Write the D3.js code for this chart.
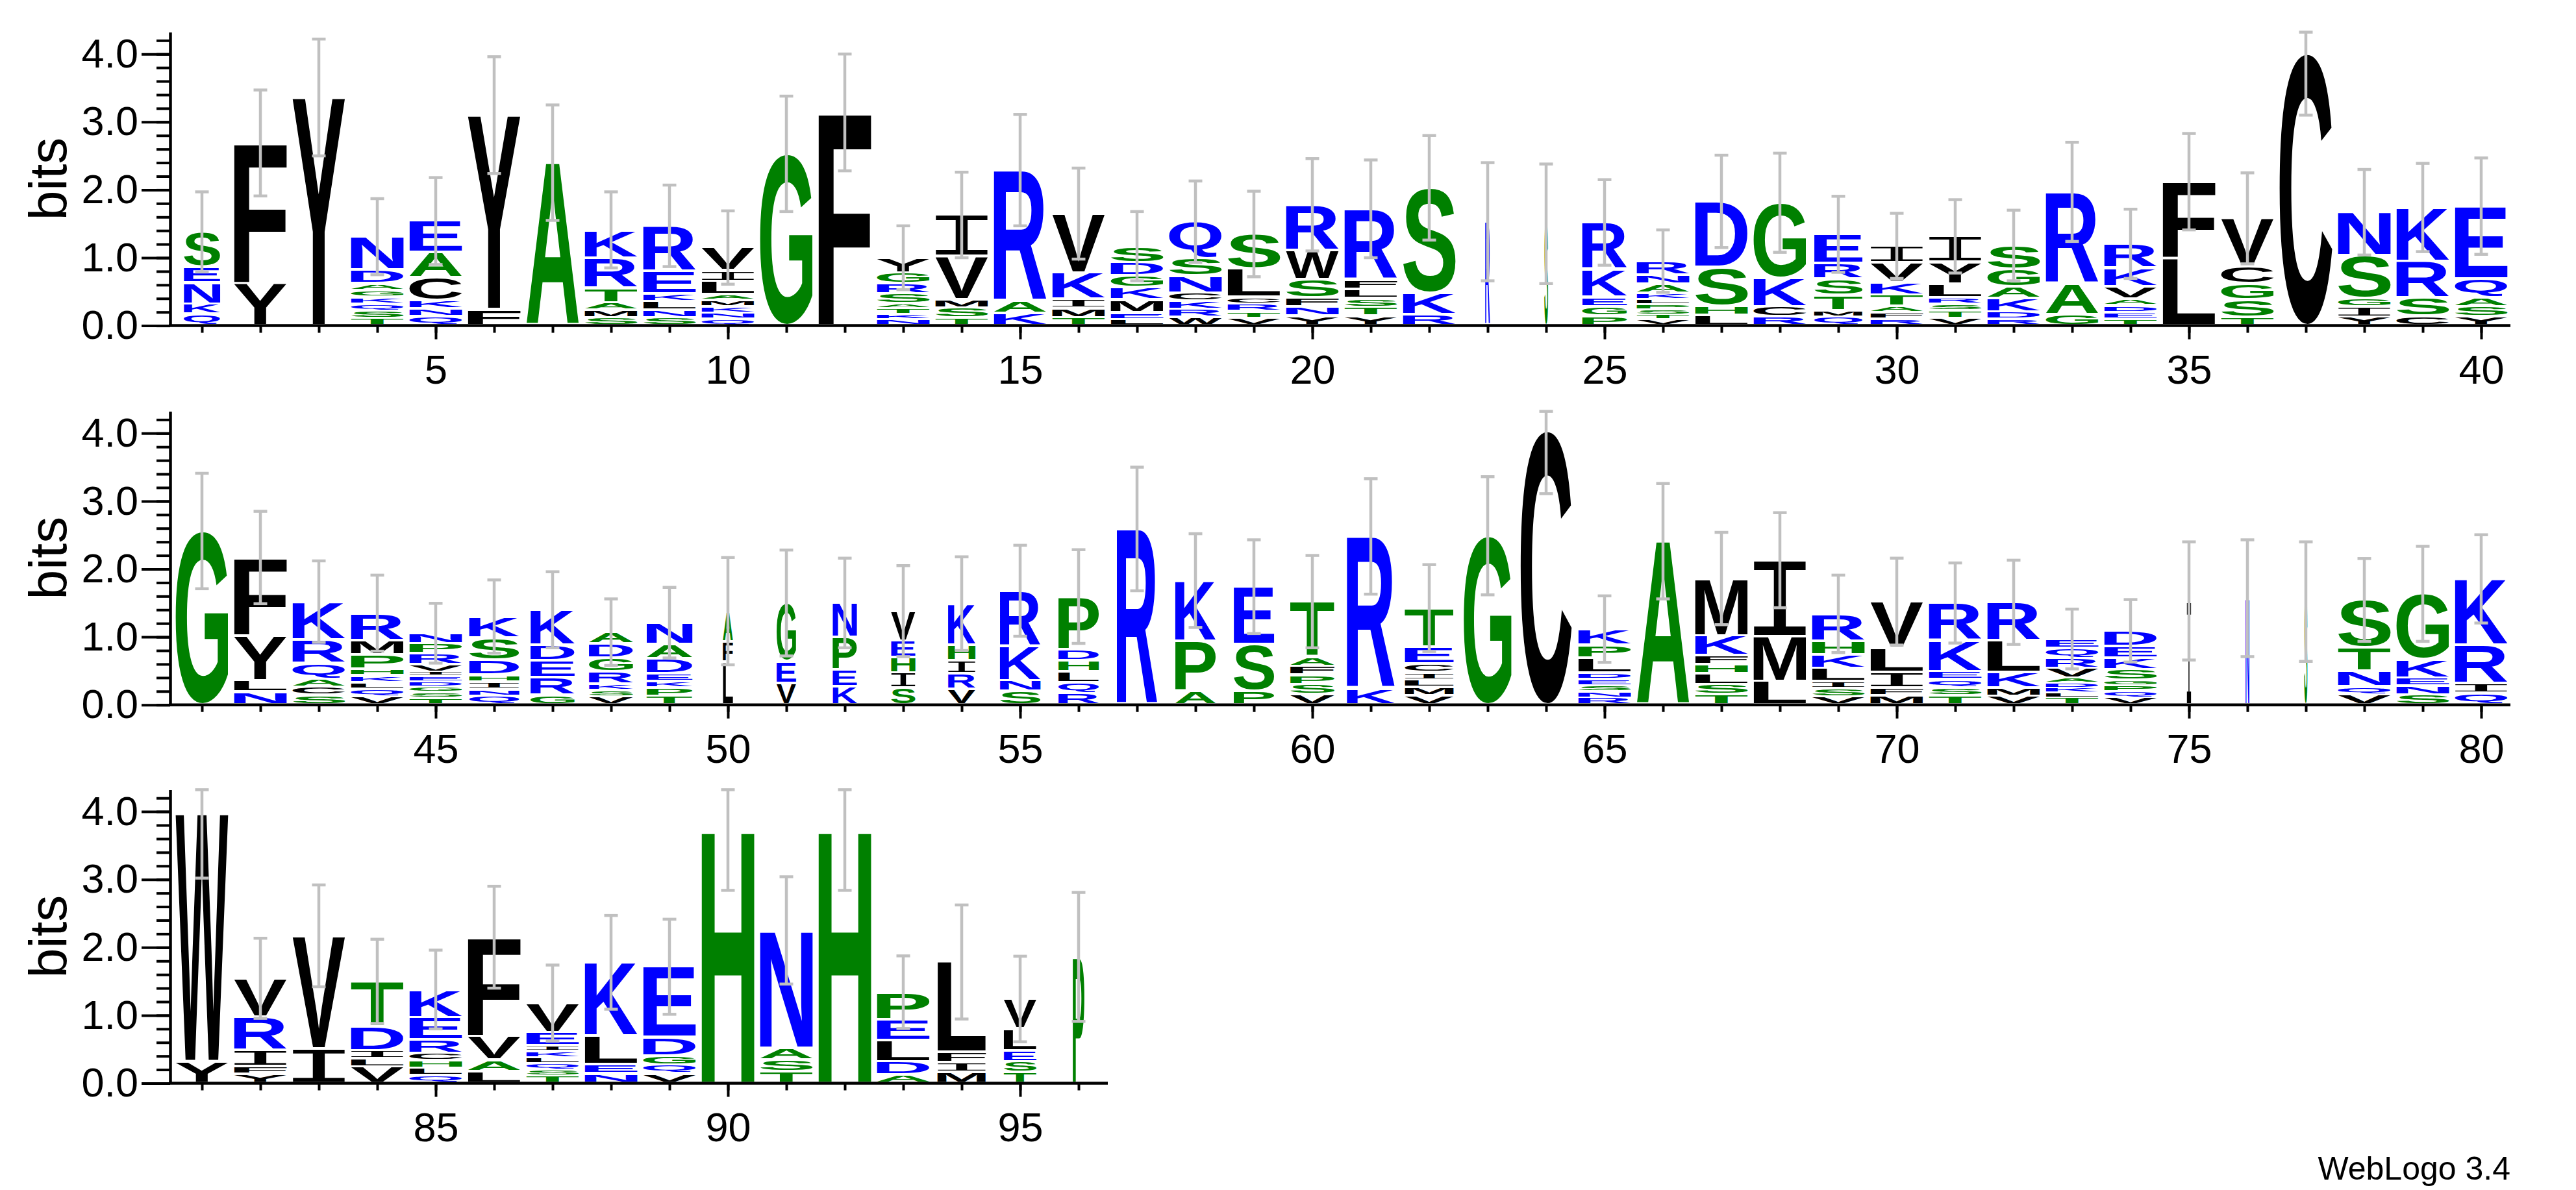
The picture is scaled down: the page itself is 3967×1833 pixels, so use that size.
<!DOCTYPE html>
<html><head><meta charset="utf-8">
<script src="https://cdn.jsdelivr.net/npm/d3@7"></script>
<style>body{margin:0;background:#fff}</style>
</head><body>
<script>
// ---------------- DATA ----------------
const rowStarts = [1, 41, 81];
const rowLengths = [40, 40, 16];
const yTickValues = [0, 1, 2, 3, 4];
const xTickLabels = [5,10,15,20,25,30,35,40,45,50,55,60,65,70,75,80,85,90,95];
const axisLabel = "bits";
const footer = "WebLogo 3.4";

// letter stacks, bottom -> top, [letter, bits]
const stacks = [
[["Q",.17],["K",.15],["N",.31],["E",.23],["S",.52]],
[["Y",.62],["F",2.07]],
[["Y",3.36]],
[["T",.11],["S",.11],["Q",.10],["K",.10],["G",.10],["A",.10],["D",.20],["N",.49]],
[["Q",.14],["N",.11],["K",.12],["C",.34],["A",.37],["E",.46]],
[["F",.24],["Y",2.86]],
[["A",2.40]],
[["S",.12],["M",.11],["A",.11],["T",.21],["R",.45],["K",.41]],
[["S",.12],["N",.11],["L",.13],["K",.11],["E",.33],["R",.67]],
[["Q",.10],["N",.09],["K",.09],["M",.10],["A",.08],["L",.19],["I",.16],["V",.34]],
[["G",2.53]],
[["F",3.14]],
[["N",.09],["K",.08],["T",.09],["A",.06],["S",.15],["R",.15],["G",.16],["Y",.22]],
[["T",.11],["S",.15],["M",.12],["V",.64],["I",.61]],
[["K",.18],["A",.18],["R",1.93]],
[["T",.12],["M",.14],["I",.13],["K",.39],["V",.87]],
[["L",.09],["E",.10],["M",.19],["K",.18],["G",.18],["D",.19],["S",.24]],
[["W",.12],["R",.12],["K",.12],["C",.12],["N",.25],["S",.26],["Q",.54]],
[["V",.11],["T",.10],["R",.11],["C",.10],["L",.42],["S",.51]],
[["Y",.14],["N",.14],["F",.13],["S",.27],["W",.43],["R",.67]],
[["Y",.14],["T",.13],["S",.13],["L",.14],["F",.14],["R",1.04]],
[["R",.16],["K",.32],["S",1.55]],
[["R",1.53]],
[["S",1.50]],
[["P",.14],["G",.14],["E",.14],["K",.41],["R",.69]],
[["V",.09],["T",.07],["S",.07],["P",.08],["L",.08],["K",.09],["A",.13],["N",.14],["R",.20]],
[["L",.15],["H",.14],["S",.57],["D",.97]],
[["R",.13],["C",.15],["K",.42],["G",1.11]],
[["Q",.125],["M",.10],["T",.22],["S",.24],["R",.23],["E",.43]],
[["R",.095],["F",.095],["A",.095],["T",.17],["K",.19],["V",.28],["I",.25]],
[["V",.11],["T",.11],["S",.10],["R",.095],["L",.20],["Y",.32],["I",.38]],
[["R",.095],["D",.105],["K",.20],["A",.17],["G",.26],["S",.35]],
[["G",.16],["A",.46],["R",1.35]],
[["T",.10],["E",.095],["D",.10],["A",.10],["V",.18],["K",.27],["R",.36]],
[["L",.99],["F",1.13]],
[["T",.125],["S",.255],["G",.24],["C",.25],["V",.71]],
[["C",4.01]],
[["Y",.13],["I",.15],["G",.12],["S",.63],["N",.64]],
[["C",.14],["S",.27],["R",.54],["K",.79]],
[["Y",.13],["S",.15],["A",.14],["Q",.27],["E",1.07]],
[["G",2.56]],
[["N",.19],["L",.17],["Y",.66],["F",1.15]],
[["S",.14],["C",.12],["A",.12],["Q",.23],["R",.35],["K",.56]],
[["V",.12],["Q",.11],["L",.10],["K",.10],["H",.10],["P",.21],["M",.21],["R",.40]],
[["T",.10],["S",.085],["G",.08],["D",.08],["E",.08],["I",.06],["V",.11],["R",.16],["P",.15],["N",.15]],
[["Q",.13],["N",.10],["I",.11],["H",.10],["D",.22],["S",.33],["K",.31]],
[["G",.14],["R",.26],["E",.25],["D",.23],["K",.52]],
[["V",.12],["S",.095],["K",.095],["R",.18],["G",.20],["D",.21],["A",.17]],
[["T",.13],["P",.12],["K",.10],["E",.11],["D",.22],["A",.21],["N",.32]],
[["L",.63],["F",.30],["A",.45]],
[["V",.32],["E",.32],["G",.86]],
[["K",.27],["E",.25],["P",.48],["N",.50]],
[["S",.25],["I",.22],["H",.23],["E",.24],["V",.44]],
[["V",.23],["R",.23],["I",.19],["H",.23],["K",.61]],
[["S",.20],["N",.16],["K",.50],["R",.82]],
[["R",.17],["Q",.16],["L",.16],["H",.165],["D",.16],["P",.78]],
[["R",2.59]],
[["A",.20],["P",.74],["K",.89]],
[["P",.20],["S",.69],["E",.85]],
[["V",.15],["S",.15],["P",.14],["F",.13],["A",.14],["T",.81]],
[["K",.24],["R",2.24]],
[["V",.14],["M",.12],["L",.11],["I",.11],["C",.125],["E",.25],["T",.57]],
[["G",2.49]],
[["C",4.04]],
[["R",.105],["N",.085],["S",.095],["E",.09],["D",.10],["L",.22],["P",.19],["K",.23]],
[["A",2.41]],
[["T",.15],["S",.15],["L",.16],["H",.13],["F",.14],["K",.29],["M",.84]],
[["L",.35],["M",.66],["I",1.12]],
[["V",.12],["S",.12],["I",.11],["L",.19],["K",.20],["H",.20],["R",.40]],
[["M",.14],["F",.11],["I",.23],["L",.35],["V",.69]],
[["T",.14],["S",.11],["Q",.12],["E",.12],["K",.46],["R",.55]],
[["V",.13],["M",.12],["K",.23],["L",.46],["R",.57]],
[["T",.105],["L",.07],["K",.075],["D",.075],["A",.07],["V",.145],["R",.15],["Q",.145],["E",.135]],
[["V",.105],["Q",.09],["P",.085],["G",.08],["S",.16],["K",.17],["E",.17],["D",.23]],
[["I",1.53]],
[["N",1.57]],
[["S",1.52]],
[["V",.145],["Q",.12],["N",.23],["T",.35],["S",.70]],
[["S",.145],["N",.13],["E",.12],["K",.27],["G",.97]],
[["Q",.17],["I",.145],["R",.57],["K",.97]],
[["Y",.32],["W",3.65]],
[["Y",.135],["F",.11],["I",.24],["R",.49],["V",.57]],
[["I",.51],["V",1.66]],
[["V",.24],["L",.12],["I",.12],["D",.35],["T",.67]],
[["Q",.11],["L",.115],["H",.105],["C",.11],["R",.20],["E",.33],["K",.41]],
[["L",.175],["A",.165],["V",.35],["F",1.46]],
[["T",.11],["S",.09],["Q",.09],["L",.09],["K",.09],["I",.08],["E",.20],["V",.43]],
[["N",.14],["E",.14],["L",.42],["K",1.08]],
[["V",.14],["Q",.13],["G",.135],["D",.27],["E",1.04]],
[["H",3.72]],
[["T",.17],["S",.175],["A",.175],["N",1.73]],
[["H",3.72]],
[["A",.125],["D",.19],["L",.315],["E",.31],["P",.40]],
[["M",.16],["I",.145],["F",.15],["L",1.33]],
[["T",.16],["S",.16],["E",.16],["L",.32],["V",.44]],
[["P",1.86]]
];

// error bar half-lengths (bits)
const errors = [
.59,.78,.86,.56,.64,.86,.85,.56,.60,.54,
.85,.86,.47,.63,.82,.67,.51,.60,.63,.68,
.72,.77,.87,.88,.63,.46,.68,.73,.56,.48,
.54,.52,.73,.51,.71,.67,.91,.63,.65,.71,
.85,.68,.60,.56,.44,.54,.56,.49,.52,.79,
.78,.66,.67,.69,.67,.69,.91,.69,.69,.68,
.85,.64,.87,.93,.49,.85,.68,.70,.57,.64,
.59,.62,.44,.46,.87,.86,.88,.61,.70,.65,
.95,.59,.75,.62,.58,.75,.56,.69,.70,.88,
.79,.88,.535,.84,.63,.95
];

// column occupancy (stack width fraction)
const occupancy = [
.69,1,1,1,1,1,1,1,1,1,
1,1,1,1,1,1,1,1,1,1,
1,1,.09,.07,.85,1,1,1,.92,1,
1,1,1,1,1,1,1,1,1,1,
1,1,1,1,1,.95,.84,.84,.87,.19,
.37,.46,.46,.52,.77,.77,.77,.77,.77,.84,
.91,.93,.91,.97,1,1,1,1,1,1,
1,1,1,1,.08,.07,.06,1,1,1,
1,1,1,1,1,1,1,1,1,1,
1,1,1,.92,.62,.22
];

const colorGroups = [
  {letters: "RKDENQ", color: "#0000ff"},
  {letters: "SGHTAP", color: "#008000"},
  {letters: "YVMCLFIW", color: "#000000"}
];

// ---------------- LAYOUT ----------------
const W = 3967, H = 1833;
const rowBase = [501.6, 1085.7, 1668.5];
const bitPx = 104.6;
const maxBits = Math.log2(20);
const axisX = 262;
const firstLeft = 266;
const posW = 90;
const letterFrac = 0.9;
const fontTick = 63;

function letterColor(ch) {
  const g = colorGroups.find(g => g.letters.includes(ch));
  return g ? g.color : "#000";
}

const canvas = document.createElement("canvas");
const ctx = canvas.getContext("2d");
function glyphFamily(ch) { return ch === "I" ? "Liberation Mono" : "Liberation Sans"; }
function glyphWeight(ch) { return ch === "I" ? "normal" : "bold"; }
const mcache = {};
function metrics(ch) {
  if (mcache[ch]) return mcache[ch];
  ctx.font = `${glyphWeight(ch)} 200px "${glyphFamily(ch)}"`;
  const m = ctx.measureText(ch);
  return mcache[ch] = {l: m.actualBoundingBoxLeft, r: m.actualBoundingBoxRight,
                       a: m.actualBoundingBoxAscent, d: m.actualBoundingBoxDescent};
}

const svg = d3.select("body").append("svg")
  .attr("width", W).attr("height", H)
  .style("background", "#fff");

rowStarts.forEach((start, ri) => {
  const n = rowLengths[ri];
  const x = d3.scaleLinear().domain([start - 0.5, start + n - 0.5])
              .range([firstLeft, firstLeft + n * posW]);
  const y = d3.scaleLinear().domain([0, maxBits])
              .range([rowBase[ri], rowBase[ri] - maxBits * bitPx]);
  const g = svg.append("g");

  // letters
  const positions = d3.range(start, start + n);
  positions.forEach(p => {
    const st = stacks[p - 1];
    const w = posW * letterFrac * occupancy[p - 1];
    const cx = x(p);
    let cum = 0;
    st.forEach(([ch, h]) => {
      const yTop = y(cum + h), yBot = y(cum);
      cum += h;
      const hp = yBot - yTop;
      const gap = Math.min(3, hp * 0.25);
      const top = yTop + gap / 2, bot = yBot - gap / 2 - 1;
      const m = metrics(ch);
      const sx = w / (m.l + m.r), sy = (bot - top) / (m.a + m.d);
      g.append("text")
        .text(ch)
        .attr("font-family", glyphFamily(ch))
        .attr("font-weight", glyphWeight(ch))
        .attr("font-size", 200)
        .attr("fill", letterColor(ch))
        .attr("transform", `translate(${cx - w / 2 + m.l * sx},${top + m.a * sy}) scale(${sx},${sy})`);
    });
  });

  // error bars
  const eb = g.append("g").attr("stroke", "#c0c0c0").attr("stroke-width", 4.5).attr("fill", "none");
  positions.forEach(p => {
    const hTot = d3.sum(stacks[p - 1], d => d[1]);
    const e = errors[p - 1];
    const lo = Math.max(0, hTot - e), hi = Math.min(maxBits, hTot + e);
    const cx = x(p);
    eb.append("line").attr("x1", cx).attr("x2", cx).attr("y1", y(lo)).attr("y2", y(hi));
    eb.append("line").attr("x1", cx - 10.5).attr("x2", cx + 10.5).attr("y1", y(lo)).attr("y2", y(lo));
    eb.append("line").attr("x1", cx - 10.5).attr("x2", cx + 10.5).attr("y1", y(hi)).attr("y2", y(hi));
  });

  // y axis (minor + major)
  const yMinor = d3.axisLeft(y).tickValues(d3.range(0, 4.3, 0.2)).tickSize(21).tickSizeOuter(0).tickFormat("");
  const yMajor = d3.axisLeft(y).tickValues(yTickValues).tickSize(44).tickSizeOuter(0).tickPadding(5)
                   .tickFormat(d3.format(".1f"));
  [yMinor, yMajor].forEach(ax => {
    const a = g.append("g").attr("transform", `translate(${axisX},0)`).call(ax);
    a.selectAll("path,line").attr("stroke", "#000").attr("stroke-width", 4);
    a.selectAll("text").attr("font-family", "Liberation Sans").attr("font-size", fontTick).attr("fill", "#000");
  });

  // x axis baseline
  g.append("line").attr("x1", axisX - 2).attr("x2", firstLeft + n * posW)
    .attr("y1", y(0)).attr("y2", y(0)).attr("stroke", "#000").attr("stroke-width", 4.5);
  const xMinor = d3.axisBottom(x).tickValues(positions).tickSize(11).tickSizeOuter(0).tickFormat("");
  const xMajor = d3.axisBottom(x).tickValues(xTickLabels.filter(v => v >= start && v < start + n))
                   .tickSize(21).tickSizeOuter(0).tickPadding(24).tickFormat(d3.format("d"));
  [xMinor, xMajor].forEach(ax => {
    const a = g.append("g").attr("transform", `translate(0,${y(0)})`).call(ax);
    a.select(".domain").remove();
    a.selectAll("line").attr("stroke", "#000").attr("stroke-width", 4);
    a.selectAll("text").attr("font-family", "Liberation Sans").attr("font-size", fontTick).attr("fill", "#000");
  });

  // axis label
  g.append("text").text(axisLabel)
    .attr("font-family", "Liberation Sans").attr("font-size", 82)
    .attr("text-anchor", "middle")
    .attr("transform", `translate(102,${(y(0) + y(maxBits)) / 2}) rotate(-90)`);
});

svg.append("text").text(footer)
  .attr("x", 3866).attr("y", 1817)
  .attr("text-anchor", "end")
  .attr("font-family", "Liberation Sans").attr("font-size", 50).attr("fill", "#000");
</script>
</body></html>
